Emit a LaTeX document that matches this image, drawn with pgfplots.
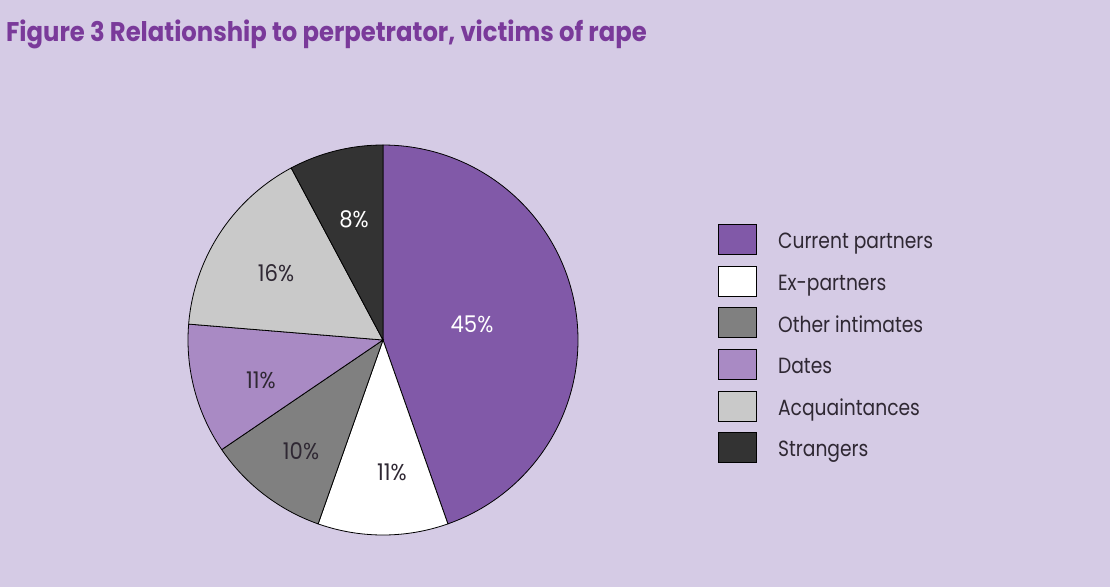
\documentclass[border=0pt]{standalone}
\usepackage{pgfplots}
\pgfplotsset{compat=1.18}
\usepackage{fontspec}
\setmainfont{Poppins}[FakeStretch=0.88]
\newfontfamily\legfont{Poppins}[FakeStretch=0.85]
\newfontfamily\labfont{Poppins}[FakeStretch=0.92]
\newfontfamily\titfont{Poppins}[FakeStretch=0.9]

\definecolor{bg}{HTML}{D5CBE5}
\definecolor{titlec}{HTML}{7A3A9A}
\definecolor{cur}{HTML}{8159A8}
\definecolor{expart}{HTML}{FFFFFF}
\definecolor{other}{HTML}{808080}
\definecolor{dates}{HTML}{A98AC4}
\definecolor{acq}{HTML}{C9C9C9}
\definecolor{strang}{HTML}{333333}
\definecolor{txt}{HTML}{2F2833}

% shares in percent, clockwise from 12 o'clock
\def\pA{44.6} % Current partners
\def\pB{10.8} % Ex-partners
\def\pC{10.1} % Other intimates
\def\pD{10.8} % Dates
\def\pE{15.9} % Acquaintances
\def\pF{7.8}  % Strangers

\begin{document}
\begin{tikzpicture}
\begin{axis}[
  scale only axis, width=1110pt, height=587pt,
  xmin=0, xmax=1110, ymin=0, ymax=587,
  hide axis, clip=false,
  samples=120,
  legend cell align=left,
  legend image code/.code={
    \draw[#1,draw=black,line width=1pt] (0pt,-13pt) rectangle (38pt,17pt);
    \path (59pt,0pt);},
  legend style={at={(axis cs:718,363)}, anchor=north west,
    draw=none, fill=none, inner sep=0pt, row sep=10.6pt,
    nodes={inner sep=0pt, text=txt, font=\legfont\fontsize{22}{26}\selectfont}},
]
\fill[bg] (axis cs:0,0) rectangle (axis cs:1110,587);

\addplot[fill=cur, draw=black, line width=0.8pt, domain={90-3.6*\pA}:90]
  ({383+195*cos(x)},{247+195*sin(x)}) -- (axis cs:383,247) -- cycle;
\addlegendentry{Current partners}
\addplot[fill=expart, draw=black, line width=0.8pt, domain={90-3.6*(\pA+\pB)}:{90-3.6*\pA}]
  ({383+195*cos(x)},{247+195*sin(x)}) -- (axis cs:383,247) -- cycle;
\addlegendentry{Ex-partners}
\addplot[fill=other, draw=black, line width=0.8pt, domain={90-3.6*(\pA+\pB+\pC)}:{90-3.6*(\pA+\pB)}]
  ({383+195*cos(x)},{247+195*sin(x)}) -- (axis cs:383,247) -- cycle;
\addlegendentry{Other intimates}
\addplot[fill=dates, draw=black, line width=0.8pt, domain={90-3.6*(\pA+\pB+\pC+\pD)}:{90-3.6*(\pA+\pB+\pC)}]
  ({383+195*cos(x)},{247+195*sin(x)}) -- (axis cs:383,247) -- cycle;
\addlegendentry{Dates}
\addplot[fill=acq, draw=black, line width=0.8pt, domain={90-3.6*(\pA+\pB+\pC+\pD+\pE)}:{90-3.6*(\pA+\pB+\pC+\pD)}]
  ({383+195*cos(x)},{247+195*sin(x)}) -- (axis cs:383,247) -- cycle;
\addlegendentry{Acquaintances}
\addplot[fill=strang, draw=black, line width=0.8pt, domain=-270:{90-3.6*(\pA+\pB+\pC+\pD+\pE)}]
  ({383+195*cos(x)},{247+195*sin(x)}) -- (axis cs:383,247) -- cycle;
\addlegendentry{Strangers}

% slice labels
\begin{scope}[every node/.style={inner sep=0pt, font=\labfont\fontsize{23}{27}\selectfont}]
\node[text=white] at (axis cs:472,263) {45\%};
\node[text=txt]   at (axis cs:392,115) {11\%};
\node[text=txt]   at (axis cs:301,136) {10\%};
\node[text=txt]   at (axis cs:261,207) {11\%};
\node[text=txt]   at (axis cs:276,313.5) {16\%};
\node[text=white] at (axis cs:354,367.5) {8\%};
\end{scope}

\node[anchor=base west, inner sep=0pt, text=titlec,
  font=\titfont\fontsize{27}{31}\selectfont\bfseries] at (axis cs:6,545)
  {Figure 3 Relationship to perpetrator, victims of rape};
\end{axis}
\end{tikzpicture}
\end{document}
